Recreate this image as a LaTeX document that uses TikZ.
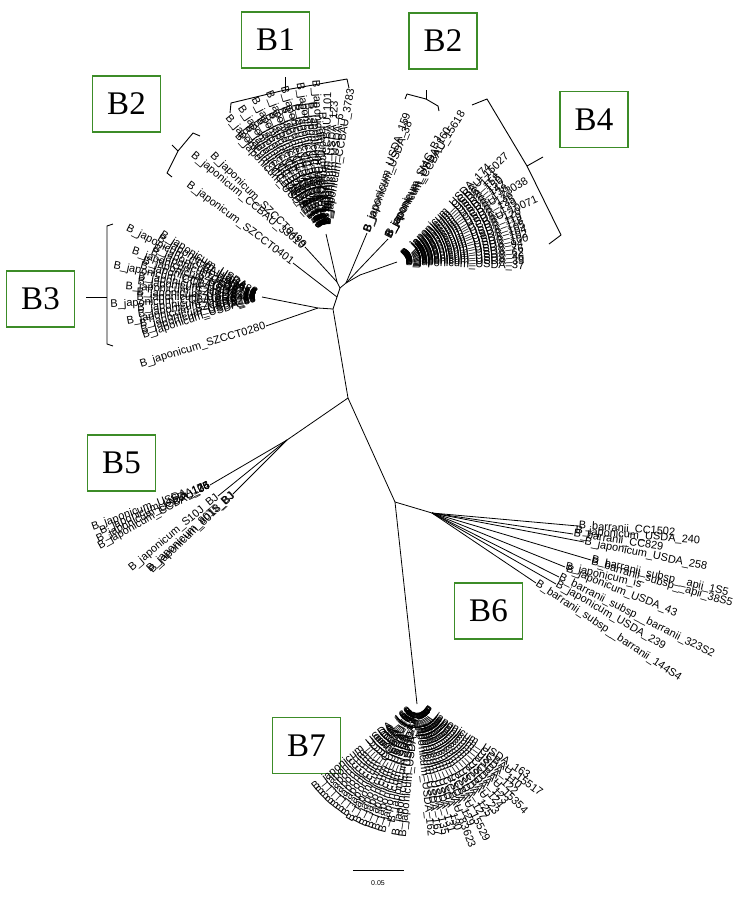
\documentclass[tikz,border=0pt]{standalone}
\usepackage{fontspec}
\setmainfont{Liberation Serif}
\newfontfamily\leaffont{Liberation Sans}
\usetikzlibrary{calc, positioning}
\definecolor{boxgreen}{RGB}{60,140,40}
\newcommand{\bj}[1]{B\_japonicum\_#1}
\newcommand{\bb}[1]{B\_barranii\_#1}

\begin{document}
\begin{tikzpicture}[x=1pt, y=-1pt,
    leaf/.style={font=\leaffont\fontsize{11}{11}\selectfont, inner sep=0.5pt},
    clade/.style={draw=boxgreen, line width=1.3pt, minimum width=68pt, minimum height=56pt, inner sep=0pt, font=\fontsize{33}{33}\selectfont},
    edge/.style={line width=0.8pt},
    brace/.style={line width=0.9pt, line join=round}]
\useasboundingbox (0,0) rectangle (737,898);

% clade boxes
\node[clade] (b1) at (275.5,40) {B1};
\node[clade] (b2top) at (443,41) {B2};
\node[clade] (b2left) at (126.5,104) {B2};
\node[clade] (b3) at (40.5,299) {B3};
\node[clade] (b4) at (594,119.5) {B4};
\node[clade] (b5) at (121.5,463) {B5};
\node[clade] (b6) at (488.5,611) {B6};
\node[clade] (b7) at (306.5,745.5) {B7};

% brackets
\draw[brace] (230,113) -- (231,103) -- (285,90) -- (347,79) -- (349,88);
\draw[brace] (285,90) -- (285,77);
\draw[brace] (405,99) -- (407,94) -- (426,99) -- (438,106) -- (439,111);
\draw[brace] (426,99) -- (426,90);
\draw[brace] (472,105) -- (487,99) -- (527,166) -- (561,235) -- (549,244);
\draw[brace] (527,166) -- (543,157);
\draw[brace] (200,136) -- (193,133) -- (178,151) -- (167,173) -- (172,177);
\draw[brace] (178,151) -- (172,145);
\draw[brace] (113,224) -- (107,226) -- (107,344) -- (113,346);
\draw[brace] (107,297) -- (86,297);

% internal nodes
\coordinate (r) at (348,398);
\coordinate (a) at (333,309);
\coordinate (c) at (318,308);
\coordinate (e1) at (337,297);
\coordinate (d) at (340,288);
\coordinate (d1) at (337,282);
\coordinate (d2) at (346,283);
\coordinate (n4) at (360,275);
\coordinate (f5) at (287,440);
\coordinate (e) at (395,502);
\coordinate (h6) at (432,513);
\coordinate (h1) at (326,234);
\coordinate (h3) at (262,297);
\coordinate (h4) at (397,262);
\coordinate (h7) at (417,704);

\draw[edge] (r) -- (a) -- (e1) -- (d) -- (d1) -- (h1);
\draw[edge] (a) -- (c) -- (h3);
\draw[edge] (d) -- (d2) -- (n4) -- (h4);
\draw[edge] (r) -- (f5);
\draw[edge] (r) -- (e) -- (h7);
\draw[edge] (e) -- (h6);

% B2 (left) and B3 single leaves
\node[leaf, anchor=east, rotate=-37] (sz401) at (293,263) {\bj{SZCCT0401}};
\node[leaf, anchor=east, rotate=-40] (cc330) at (304,248) {\bj{CCBAU\_33010}};
\node[leaf, anchor=east, rotate=-45] (sz499) at (305,247) {\bj{SZCCT0499}};
\node[leaf, anchor=east, rotate=17] (sz280) at (266,326) {\bj{SZCCT0280}};
\draw[edge] (e1) -- (sz401.east);
\draw[edge] (d1) -- (sz499.east);
\draw[edge] (c) -- (sz280.east);

% B2 (top)
\node[leaf, anchor=west, rotate=71] (u159) at (367,232) {\bj{USDA\_159}};
\node[leaf, anchor=west, rotate=69] (u38) at (367,233) {\bj{USDA\_38}};
\node[leaf, anchor=west, rotate=59] (c15618) at (388,237) {\bj{CCBAU\_15618}};
\node[leaf, anchor=west, rotate=61] (u160) at (388,238) {\bj{USDA\_160}};
\node[leaf, anchor=west, rotate=63] (smc) at (388,239) {\bj{SMC\_BJ}};
\draw[edge] (d2) -- (u38.west);
\draw[edge] (d2) -- (smc.west);

% B1 fan
\foreach \a/\s [count=\i] in {80/CCBAU\_3783, 83/USDA\_6, 86/USDA\_123, 89/CCBAU\_101}
  \node[leaf, anchor=west, rotate=\a] (b1r\i) at ($(h1)+(\a:8pt)$) {\bj{\s}};
\foreach \a/\s [count=\i] in {92/USDA\_4, 94/CCBAU\_15533, 96/USDA\_110, 98/USDA\_117,
    100/CCBAU\_15544, 102/USDA\_121, 104/USDA\_126, 106/CCBAU\_23160, 108/USDA\_128,
    110/USDA\_132, 112/CCBAU\_25435, 114/USDA\_133, 116/USDA\_137, 118/CCBAU\_33148,
    120/USDA\_139, 122/USDA\_141, 124/CCBAU\_65778, 126/USDA\_144, 128/USDA\_146,
    130/CCBAU\_83390, 132/USDA\_149}
  \node[leaf, anchor=east, rotate=\a-180] (b1l\i) at ($(h1)+(\a:8pt)$) {\bj{\s}};

% B3 fan
\foreach \a/\s [count=\i] in {148/USDA\_3, 150.5/USDA\_5, 153/CCBAU\_05684, 155.5/USDA\_7,
    158/USDA\_9, 160.5/SZCCT0255, 163/USDA\_11, 165.5/USDA\_13, 168/CCBAU\_43271,
    170.5/USDA\_15, 173/USDA\_17, 175.5/SZCCT0118, 178/USDA\_19, 180.5/USDA\_21,
    183/CCBAU\_25435, 185.5/USDA\_24, 188/USDA\_26, 190.5/SZCCT0207, 193/USDA\_29,
    195.5/USDA\_30, 198/USDA\_33}
  \node[leaf, anchor=east, rotate=\a-180] (b3l\i) at ($(h3)+(\a:6pt)$) {\bj{\s}};

% B4 fan
\foreach \a/\s [count=\i] in {-2/USDA\_37, 0/USDA\_39, 2/USDA\_46, 4/USDA\_62, 6/USDA\_76,
    8/USDA\_94, 10/USDA\_100, 12/USDA\_102, 14/USDA\_104, 16/USDA\_105, 18/USDA\_118,
    20/USDA\_119, 22/USDA\_120, 24/CCBAU\_10071, 26/USDA\_129, 28/USDA\_135, 30/USDA\_136,
    32/CCBAU\_23038, 34/USDA\_138, 36/USDA\_142, 38/USDA\_150, 40/USDA\_158,
    42/USDA\_171, 44/CCBAU\_15027, 46/USDA\_174}
  \node[leaf, anchor=west, rotate=\a] (b4r\i) at ($(h4)+(\a:8pt)$) {\bj{\s}};

% B5
\foreach \a/\s [count=\i] in {20/USDA\_124, 23/USDA\_76, 26/USDA\_135, 29/CCBAU\_05}
  \node[leaf, anchor=east, rotate=\a] (b5g\i) at (210,485) {\bj{\s}};
\node[leaf, anchor=east, rotate=40] (s10j) at (218,496) {\bj{S10J\_BJ}};
\node[leaf, anchor=east, rotate=42] (bj8015) at (233,494) {\bj{8015\_BJ}};
\node[leaf, anchor=east, rotate=43] (bj8018) at (234,494) {\bj{8018\_BJ}};
\draw[edge] (f5) -- (b5g2.east);
\draw[edge] (f5) -- (s10j.east);
\draw[edge] (f5) -- (bj8015.east);

% B6
\node[leaf, anchor=west, rotate=-4] (cc1502) at (578,526) {\bb{CC1502}};
\node[leaf, anchor=west, rotate=-4.5] (u240) at (575,531) {\bj{USDA\_240}};
\node[leaf, anchor=west, rotate=-8.4] (cc829) at (573,534) {\bb{CC829}};
\node[leaf, anchor=west, rotate=-11.6] (u258) at (584,542) {\bj{USDA\_258}};
\node[leaf, anchor=west, rotate=-13.6] (a1s5) at (591,560) {\bb{subsp\_\_apii\_1S5}};
\node[leaf, anchor=west, rotate=-16.5] (a38s5) at (591,562) {\bb{subsp\_\_apii\_38S5}};
\node[leaf, anchor=west, rotate=-13] (jis) at (565,567) {\bj{is}};
\node[leaf, anchor=west, rotate=-22] (u43) at (566,569) {\bj{USDA\_43}};
\node[leaf, anchor=west, rotate=-26.7] (s323) at (559,577) {\bb{subsp\_\_barranii\_323S2}};
\node[leaf, anchor=west, rotate=-30] (u239) at (556,584) {\bj{USDA\_239}};
\node[leaf, anchor=west, rotate=-33.6] (s144) at (536,583) {\bb{subsp\_\_barranii\_144S4}};
\foreach \n in {cc1502, cc829, u258, a1s5, jis, s323, u239, s144}
  \draw[edge] (h6) -- (\n.west);

% B7 fan
\foreach \a/\s [count=\i] in {-33/USDA\_163, -36/CCBAU\_15517, -39/USDA\_110, -42/USDA\_122,
    -45/CCBAU\_15354, -48/USDA\_123, -51/USDA\_124, -54/CCBAU\_23, -57/USDA\_125,
    -60/USDA\_127, -63/CCBAU\_15529, -66/USDA\_129, -69/CCBAU\_83623, -72/USDA\_130,
    -75/USDA\_131, -78/USDA\_135, -81/USDA\_167, -84/USDA\_162}
  \node[leaf, anchor=west, rotate=\a] (b7r\i) at ($(h7)+(\a:8pt)$) {\bj{\s}};
\foreach \a/\s [count=\i] in {-96/USDA\_140, -99/USDA\_148, -102/USDA\_6, -105/USDA\_134,
    -108/USDA\_136, -111/USDA\_138, -114/USDA\_142, -117/USDA\_143, -120/CCBAU\_05,
    -123/USDA\_150, -126/USDA\_151, -129/USDA\_155, -132/USDA\_156, -135/USDA\_158,
    -138/USDA\_161, -141/USDA\_169}
  \node[leaf, anchor=east, rotate=\a+180] (b7l\i) at ($(h7)+(\a:8pt)$) {\bj{\s}};

% scale bar
\coordinate (s0) at (353,870);
\coordinate (s1) at (404,870);
\draw[edge] (s0) -- (s1);
\node[font=\leaffont\fontsize{7}{7}\selectfont] (scale) at (378,883) {0.05};
\end{tikzpicture}
\end{document}
